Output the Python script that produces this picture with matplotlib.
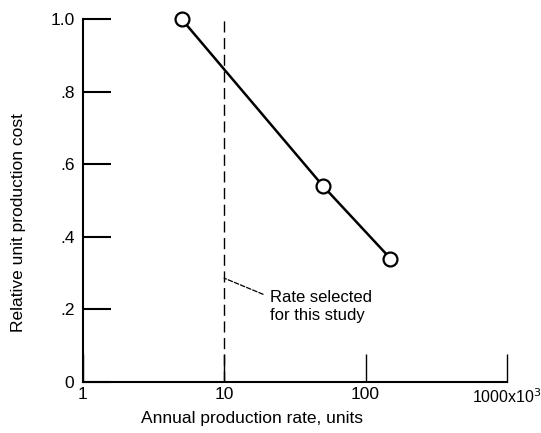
import matplotlib.pyplot as plt
from matplotlib.ticker import FixedLocator, FixedFormatter

plt.rcParams['font.family'] = ['Liberation Sans', 'DejaVu Sans']

# data
rate = [5, 50, 150]            # annual production rate, thousands of units
cost = [1.0, 0.54, 0.34]       # relative unit production cost
selected_rate = 10

x_ticks = [1, 10, 100, 1000]
x_labels = ['1', '10', '100', '1000x10$^3$']
y_ticks = [0, 0.2, 0.4, 0.6, 0.8, 1.0]
y_labels = ['0', '.2', '.4', '.6', '.8', '1.0']

fig = plt.figure(figsize=(5.41, 4.33), dpi=100)
ax = fig.add_axes([0.153, 0.118, 0.784, 0.838])

ax.plot(rate, cost, color='black', lw=1.8, marker='o', markersize=10,
        markerfacecolor='white', markeredgecolor='black', markeredgewidth=1.6,
        zorder=5, clip_on=False)
ax.plot([selected_rate, selected_rate], [0, 1.0], color='black', lw=1.0,
        ls=(0, (8, 4)), zorder=4)

ax.annotate('Rate selected\nfor this study', xy=(selected_rate, 0.286),
            xytext=(21, 0.208), fontsize=12, va='center', ha='left',
            linespacing=1.3,
            arrowprops=dict(arrowstyle='-', ls='--', lw=0.9, color='black',
                            shrinkA=3, shrinkB=0, relpos=(0, 0.78)))

ax.set_xscale('log')
ax.set_xlim(1, 1000)
ax.set_ylim(0, 1.0)
ax.xaxis.set_major_locator(FixedLocator(x_ticks))
ax.xaxis.set_major_formatter(FixedFormatter(x_labels))
ax.xaxis.set_minor_locator(FixedLocator([]))
ax.yaxis.set_major_locator(FixedLocator(y_ticks))
ax.yaxis.set_major_formatter(FixedFormatter(y_labels))

for side in ['top', 'right']:
    ax.spines[side].set_visible(False)
for side in ['left', 'bottom']:
    ax.spines[side].set_linewidth(1.5)

ax.tick_params(axis='both', direction='in', length=20, labelsize=12.5)
ax.tick_params(axis='y', width=1.5, pad=6)
ax.tick_params(axis='x', width=1.0, pad=4)
ax.get_xticklabels()[-1].set_fontsize(11.5)
ax.set_xlabel('Annual production rate, units', fontsize=12.5)
ax.set_ylabel('Relative unit production cost', fontsize=12.5)
ax.xaxis.set_label_coords(0.40, -0.08)
ax.yaxis.set_label_coords(-0.135, 0.44)

fig.savefig('out.png', dpi=100)
